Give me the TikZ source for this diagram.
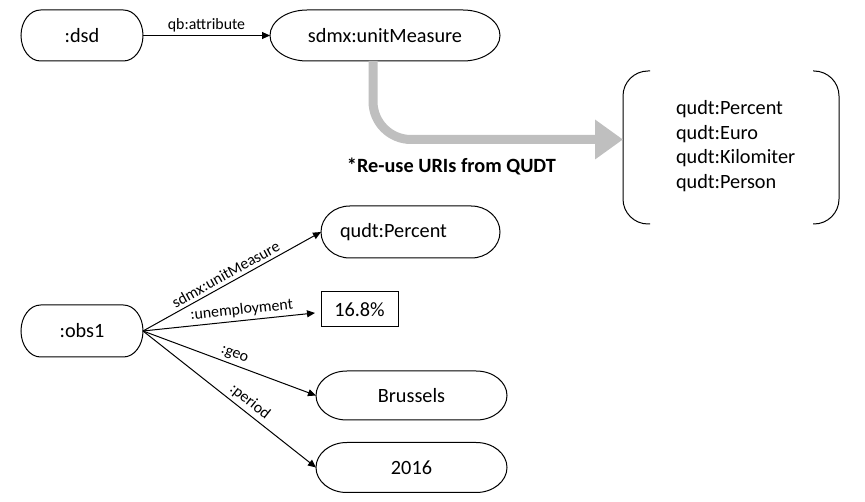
\documentclass[tikz,border=0pt]{standalone}
\usepackage{fontspec}
\setmainfont{Carlito}
\usetikzlibrary{arrows.meta}
\definecolor{biggray}{RGB}{191,191,191}
\newcommand\mainfs{\fontsize{15.2}{18.5}\selectfont}
\newcommand\edgefs{\fontsize{11.9}{14}\selectfont}
% terminator outline around a node: #1 name, #2 x radius, #3 y radius
\newcommand\termpath[3]{%
  \draw[outline] ([xshift=#2]#1.north west) -- ([xshift=-#2]#1.north east)
    arc[start angle=90,end angle=-90,x radius=#2,y radius=#3]
    -- ([xshift=#2]#1.south west)
    arc[start angle=270,end angle=90,x radius=#2,y radius=#3] -- cycle;}
\begin{document}
\begin{tikzpicture}[x=0.75pt,y=0.75pt,
  box/.style={inner sep=0pt, outer sep=0pt, font=\mainfs},
  outline/.style={draw=black, line width=0.75pt},
  arr/.style={draw=black, line width=0.75pt, -{Triangle[length=6pt,width=5.25pt]}},
  elabel/.style={font=\edgefs, inner sep=2.5pt},
  bigarrow/.style={draw=biggray, line width=6.75pt, rounded corners=28.5pt,
    -{Triangle[length=21pt,width=28.5pt]}}]
\useasboundingbox (0,0) rectangle (865,-502);

% top row
\node[box, minimum width=91.5pt, minimum height=38.25pt] (dsd) at (82,-35.5) {:dsd};
\node[box, minimum width=172.5pt, minimum height=38.25pt] (um) at (385,-35.5) {sdmx:unitMeasure};
\termpath{dsd}{14.7pt}{19.125pt}
\termpath{um}{27.8pt}{19.125pt}
\draw[arr] (dsd.east) -- (um.west) node[elabel, midway, above] {qb:attribute};

% unit list in bracket
\node[box, minimum width=162pt, minimum height=114.75pt] (bracket) at (731,-147.5) {};
\draw[outline, rounded corners=18.75pt] ([xshift=20.25pt]bracket.north west) -- (bracket.north west)
  -- (bracket.south west) -- ([xshift=20.25pt]bracket.south west);
\draw[outline, rounded corners=18.75pt] ([xshift=-19.5pt]bracket.north east) -- (bracket.north east)
  -- (bracket.south east) -- ([xshift=-19.5pt]bracket.south east);
\node[box, anchor=west, align=left] (units) at (676,-146)
  {qudt:Percent\\qudt:Euro\\qudt:Kilomiter\\qudt:Person};

% big gray arrow
\coordinate (tip) at (623,-139.5);
\draw[bigarrow] ([xshift=-9pt]um.south) |- (tip);
\node[box, font=\mainfs\bfseries] (reuse) at (451.5,-166.5) {*Re-use URIs from QUDT};

% observation
\node[box, minimum width=91.5pt, minimum height=39pt] (obs1) at (82,-331) {:obs1};
\termpath{obs1}{14.7pt}{19.5pt}
\node[box, minimum width=134.25pt, minimum height=39pt, text width=105.75pt,
  align=left, inner xsep=14.25pt] (qp) at (410.5,-232) {qudt:Percent};
\termpath{qp}{21.6pt}{19.5pt}
\node[box, draw=black, line width=0.75pt, minimum width=57.75pt, minimum height=26.25pt]
  (pct) at (359.5,-309.5) {16.8\%};
\node[box, minimum width=143.25pt, minimum height=36.75pt] (bru) at (411.5,-395.5) {Brussels};
\termpath{bru}{23.1pt}{18.375pt}
\node[box, minimum width=143.25pt, minimum height=37.5pt] (y16) at (411.5,-467.5) {2016};
\termpath{y16}{23.1pt}{18.75pt}

\draw[arr] (obs1.east) -- (qp.west)
  node[elabel, pos=0.49, above, sloped] {sdmx:unitMeasure};
\draw[arr] (obs1.east) -- ([xshift=-4.5pt,yshift=-2.6pt]pct.west)
  node[elabel, pos=0.58, above, sloped] {:unemployment};
\draw[arr] (obs1.east) -- (bru.west)
  node[elabel, pos=0.51, above, sloped] {:geo};
\draw[arr] (obs1.east) -- (y16.west)
  node[elabel, pos=0.58, above, sloped] {:period};
\end{tikzpicture}
\end{document}
